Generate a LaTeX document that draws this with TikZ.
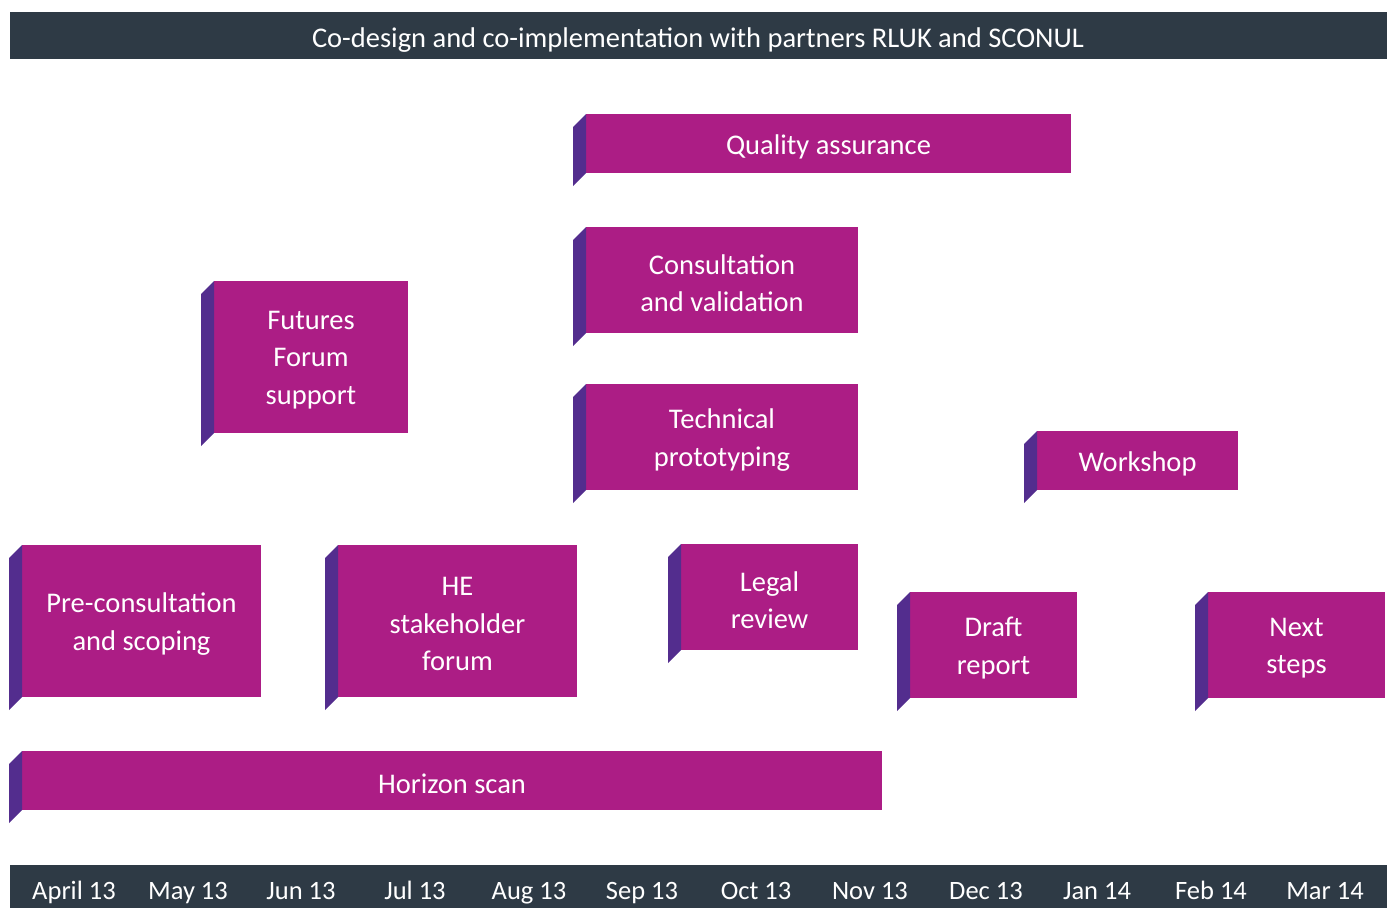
\documentclass[tikz,border=0pt]{standalone}
\usepackage{fontspec}
\setmainfont{Carlito}
\usetikzlibrary{calc}
\definecolor{magbox}{HTML}{AC1D85}
\definecolor{purside}{HTML}{532D8E}
\definecolor{darkbar}{HTML}{2E3A45}
\tikzset{
  task/.style={fill=magbox, inner sep=0pt, outer sep=0pt, anchor=north west},
  tasktext/.style={text=white, inner sep=0pt, align=center, font=\fontsize{28.5}{37.5}\selectfont},
  sidefill/.style={fill=purside},
  bar/.style={fill=darkbar, inner sep=0pt, outer sep=0pt, anchor=north west},
  month/.style={text=white, font=\fontsize{26.5}{30}\selectfont, anchor=base}
}
\newcommand{\taskbox}[6]{%
  \node[task, minimum width=#4pt, minimum height=#5pt] (#1) at (#2,#3) {};
  \fill[sidefill] (#1.north west) -- ++(-13,13) -- ($(#1.south west)+(-13,13)$) -- (#1.south west) -- cycle;
  \node[tasktext, yshift=-3pt] (#1-t) at (#1.center) {#6};
}
\begin{document}
\begin{tikzpicture}[x=1pt,y=-1pt]
\useasboundingbox (0,0) rectangle (1391,908);
% top bar
\node[bar, minimum width=1377pt, minimum height=47pt] (top) at (10,12) {};
\node[text=white, font=\fontsize{28.5}{30}\selectfont, anchor=base] (title) at (698,47) {Co-design and co-implementation with partners RLUK and SCONUL};
% bottom bar
\node[bar, minimum width=1377pt, minimum height=43pt] (bottom) at (10,865) {};
\foreach \lab/\xx [count=\i] in {April 13/74, May 13/188, Jun 13/301, Jul 13/415, Aug 13/529, Sep 13/642, Oct 13/756, Nov 13/870, Dec 13/986, Jan 14/1097, Feb 14/1211, Mar 14/1325}
  \node[month] (m\i) at (\xx,899) {\lab};
% tasks
\taskbox{qa}{586}{114}{485}{59}{Quality assurance}
\taskbox{cv}{586}{227}{272}{106}{Consultation\\and validation}
\taskbox{ff}{214}{281}{194}{152}{Futures\\Forum\\support}
\taskbox{tp}{586}{384}{272}{106}{Technical\\prototyping}
\taskbox{ws}{1037}{431}{201}{59}{Workshop}
\taskbox{pc}{22}{545}{239}{152}{Pre-consultation\\and scoping}
\taskbox{he}{338}{545}{239}{152}{HE\\stakeholder\\forum}
\taskbox{lr}{681}{544}{177}{106}{Legal\\review}
\taskbox{dr}{910}{592}{167}{106}{Draft\\report}
\taskbox{ns}{1208}{592}{177}{106}{Next\\steps}
\taskbox{hs}{22}{751}{860}{59}{Horizon scan}
\end{tikzpicture}
\end{document}
